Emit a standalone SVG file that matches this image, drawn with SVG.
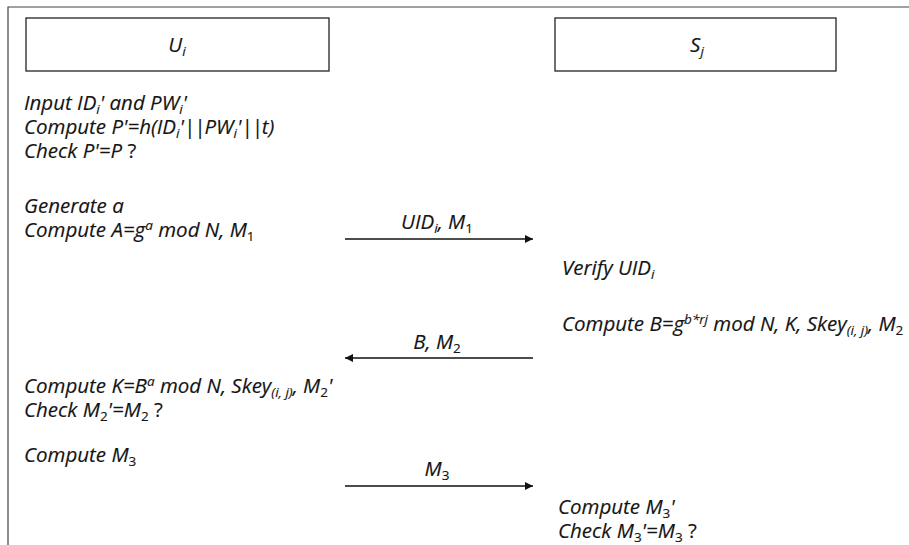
<svg xmlns="http://www.w3.org/2000/svg" width="909" height="545" viewBox="0 0 909 545">
<style>
.t{font-family:"Open Sans","Noto Sans",sans-serif;font-style:italic;font-size:20.5px;fill:#141414;stroke:#141414;stroke-width:0.15}
.m{text-anchor:middle}
.s{font-size:13.5px}
.n{font-style:normal}
.bar{letter-spacing:-1px}
.box{fill:#fff;stroke:#222;stroke-width:1.3}
.ln{stroke:#111;stroke-width:1.6;fill:none}
.frame{stroke:#444;stroke-width:1.2;fill:none}
</style>
<defs>
<marker id="ah" markerWidth="10" markerHeight="10" refX="8" refY="4" orient="auto" markerUnits="userSpaceOnUse"><path d="M0,0 L8,4 L0,8 z" fill="#111"/></marker>
</defs>
<rect width="909" height="545" fill="#fff"/>
<path class="frame" d="M8,545 V7 H909"/>

<g id="node-ui">
<rect class="box" x="26" y="18" width="303" height="53"/>
<text class="t m" x="177" y="52">U<tspan class="s" dy="4">i</tspan></text>
</g>
<g id="node-sj">
<rect class="box" x="555" y="18" width="281" height="53"/>
<text class="t m" x="697" y="52">S<tspan class="s" dy="4">j</tspan></text>
</g>

<g id="user-steps">
<text class="t" x="24" y="110">Input ID<tspan class="s" dy="4">i</tspan><tspan dy="-4">' and PW</tspan><tspan class="s" dy="4">i</tspan><tspan dy="-4">'</tspan></text>
<text class="t" x="24" y="134">Compute P'=h(ID<tspan class="s" dy="4">i</tspan><tspan dy="-4">'</tspan><tspan class="bar">||</tspan>PW<tspan class="s" dy="4">i</tspan><tspan dy="-4">'</tspan><tspan class="bar">||</tspan>t)</text>
<text class="t" x="24" y="158">Check P'=P <tspan class="n">?</tspan></text>
<text class="t" x="24" y="213">Generate a</text>
<text class="t" x="24" y="237">Compute A=g<tspan class="s" dy="-7">a</tspan><tspan dy="7"> mod N, M</tspan><tspan class="s n" dy="4">1</tspan></text>
<text class="t" x="24" y="393">Compute K=B<tspan class="s" dy="-7">a</tspan><tspan dy="7"> mod N, Skey</tspan><tspan class="s" dy="4">(i, j)</tspan><tspan dy="-4">, M</tspan><tspan class="s n" dy="4">2</tspan><tspan dy="-4">'</tspan></text>
<text class="t" x="24" y="417">Check M<tspan class="s n" dy="4">2</tspan><tspan dy="-4">'=M</tspan><tspan class="s n" dy="4">2</tspan><tspan class="n" dy="-4"> ?</tspan></text>
<text class="t" x="24" y="462">Compute M<tspan class="s n" dy="4">3</tspan></text>
</g>

<g id="server-steps">
<text class="t" x="562" y="275">Verify UID<tspan class="s" dy="4">i</tspan></text>
<text class="t" x="562" y="331">Compute B=g<tspan class="s" dy="-7">b*rj</tspan><tspan dy="7"> mod N, K, Skey</tspan><tspan class="s" dy="4">(i, j)</tspan><tspan dy="-4">, M</tspan><tspan class="s n" dy="4">2</tspan></text>
<text class="t" x="558" y="514">Compute M<tspan class="s n" dy="4">3</tspan><tspan dy="-4">'</tspan></text>
<text class="t" x="558" y="538">Check M<tspan class="s n" dy="4">3</tspan><tspan dy="-4">'=M</tspan><tspan class="s n" dy="4">3</tspan><tspan class="n" dy="-4"> ?</tspan></text>
</g>

<g id="connectors">
<line class="ln" x1="345" y1="239" x2="533" y2="239" marker-end="url(#ah)"/>
<line class="ln" x1="533" y1="358" x2="345" y2="358" marker-end="url(#ah)"/>
<line class="ln" x1="345" y1="486" x2="533" y2="486" marker-end="url(#ah)"/>
<text class="t m" x="437" y="229">UID<tspan class="s" dy="4">i</tspan><tspan dy="-4">, M</tspan><tspan class="s n" dy="4">1</tspan></text>
<text class="t m" x="437" y="349">B, M<tspan class="s n" dy="4">2</tspan></text>
<text class="t m" x="437" y="476">M<tspan class="s n" dy="4">3</tspan></text>
</g>
</svg>
